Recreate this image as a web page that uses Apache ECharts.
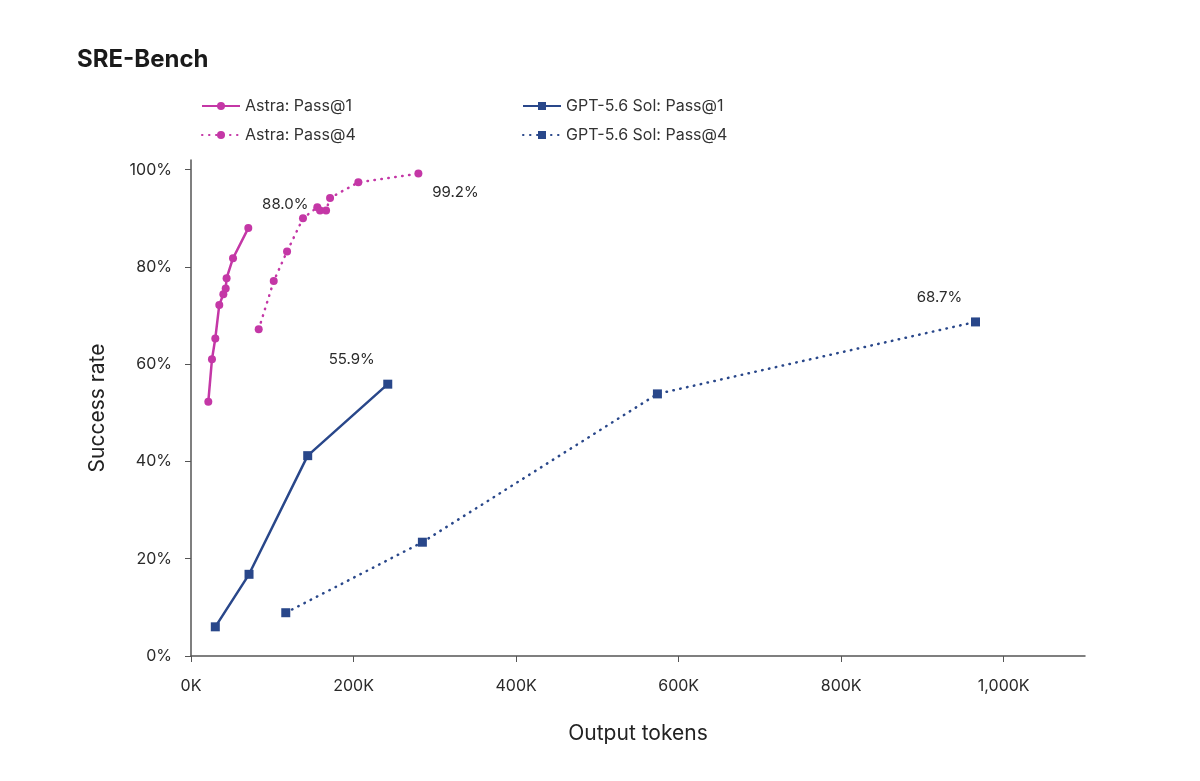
<!DOCTYPE html>
<html>
<head>
<meta charset="utf-8">
<title>SRE-Bench</title>
<script src="https://cdn.jsdelivr.net/npm/echarts@6/dist/echarts.min.js"></script>
<style>
  html, body { margin: 0; padding: 0; background: #fff; }
  #chart { width: 1200px; height: 781px; }
</style>
</head>
<body>
<div id="chart"></div>
<script>
// output tokens (thousands) and success rate (%)
var astraP1X = [21.3, 25.8, 29.9, 34.8, 39.8, 42.7, 43.8, 51.7, 70.5];
var astraP1Y = [52.3, 61.0, 65.3, 72.2, 74.4, 75.6, 77.7, 81.8, 88.0];

var astraP4X = [83.3, 101.8, 118.2, 137.8, 155.4, 158.8, 166.2, 171.1, 205.9, 279.8];
var astraP4Y = [67.2, 77.1, 83.2, 90.0, 92.3, 91.6, 91.6, 94.2, 97.4, 99.2];

var gptP1X = [29.9, 71.4, 143.6, 242.1];
var gptP1Y = [6.0, 16.8, 41.2, 55.9];

var gptP4X = [116.6, 284.7, 573.9, 965.3];
var gptP4Y = [8.9, 23.4, 53.9, 68.7];

var xTicks = [0, 200, 400, 600, 800, 1000];
var yTicks = [0, 20, 40, 60, 80, 100];

var MAGENTA = '#c437a6';
var NAVY = '#29478a';
var FONT = 'Inter, "Noto Sans", sans-serif';

// pair up x/y and put the end label on the last point
function pts(xs, ys, offset) {
    return xs.map(function (x, i) {
        var p = { value: [x, ys[i]] };
        if (i === xs.length - 1) {
            p.label = {
                show: true,
                position: 'inside',
                offset: offset,
                formatter: ys[i].toFixed(1) + '%',
                color: '#2a2a2a',
                fontSize: 15,
                fontFamily: FONT
            };
        }
        return p;
    });
}

var chart = echarts.init(document.getElementById('chart'));

var option = {
    backgroundColor: '#fff',
    animation: false,
    title: {
        text: 'SRE-Bench',
        left: 72,
        top: 43,
        textStyle: { fontSize: 24, fontWeight: 'bold', color: '#1a1a1a', fontFamily: FONT }
    },
    legend: [
        {
            data: ['Astra: Pass@1', 'Astra: Pass@4'],
            orient: 'vertical',
            left: 196,
            top: 93,
            itemWidth: 38,
            itemHeight: 10,
            itemGap: 13,
            textStyle: { fontSize: 16, color: '#333', fontFamily: FONT }
        },
        {
            data: ['GPT-5.6 Sol: Pass@1', 'GPT-5.6 Sol: Pass@4'],
            orient: 'vertical',
            left: 517,
            top: 93,
            itemWidth: 38,
            itemHeight: 10,
            itemGap: 13,
            textStyle: { fontSize: 16, color: '#333', fontFamily: FONT }
        }
    ],
    grid: {
        left: 191,
        right: 115,
        top: 160,
        bottom: 125
    },
    xAxis: {
        type: 'value',
        min: 0,
        max: 1100,
        name: 'Output tokens',
        nameLocation: 'middle',
        nameGap: 67,
        nameTextStyle: { fontSize: 21, color: '#222', fontFamily: FONT },
        splitLine: { show: false },
        axisLine: { lineStyle: { color: '#555', width: 1.5 } },
        axisTick: { show: true, length: 6, customValues: xTicks, lineStyle: { color: '#555' } },
        axisLabel: {
            customValues: xTicks,
            margin: 22,
            fontSize: 16,
            color: '#2a2a2a',
            fontFamily: FONT,
            formatter: function (v) { return v.toLocaleString('en-US') + 'K'; }
        }
    },
    yAxis: {
        type: 'value',
        min: 0,
        max: 102,
        name: 'Success rate',
        nameLocation: 'middle',
        nameGap: 83,
        nameTextStyle: { fontSize: 21, color: '#222', fontFamily: FONT },
        splitLine: { show: false },
        axisLine: { show: true, lineStyle: { color: '#555', width: 1.5 } },
        axisTick: { show: true, length: 6, customValues: yTicks, lineStyle: { color: '#555' } },
        axisLabel: {
            customValues: yTicks,
            margin: 19,
            fontSize: 16,
            color: '#2a2a2a',
            fontFamily: FONT,
            formatter: '{value}%'
        }
    },
    series: [
        {
            name: 'Astra: Pass@1',
            type: 'line',
            symbol: 'circle',
            symbolSize: 8,
            color: MAGENTA,
            lineStyle: { width: 2.5, color: MAGENTA },
            data: pts(astraP1X, astraP1Y, [37, -24])
        },
        {
            name: 'Astra: Pass@4',
            type: 'line',
            symbol: 'circle',
            symbolSize: 8,
            color: MAGENTA,
            lineStyle: { width: 2.5, color: MAGENTA, type: [0.5, 6.5], cap: 'round' },
            data: pts(astraP4X, astraP4Y, [37, 19])
        },
        {
            name: 'GPT-5.6 Sol: Pass@1',
            type: 'line',
            symbol: 'rect',
            symbolSize: 9,
            color: NAVY,
            lineStyle: { width: 2.5, color: NAVY },
            data: pts(gptP1X, gptP1Y, [-36, -25])
        },
        {
            name: 'GPT-5.6 Sol: Pass@4',
            type: 'line',
            symbol: 'rect',
            symbolSize: 9,
            color: NAVY,
            lineStyle: { width: 2.5, color: NAVY, type: [0.5, 6.5], cap: 'round' },
            data: pts(gptP4X, gptP4Y, [-36, -24])
        }
    ]
};

chart.setOption(option);
</script>
</body>
</html>
